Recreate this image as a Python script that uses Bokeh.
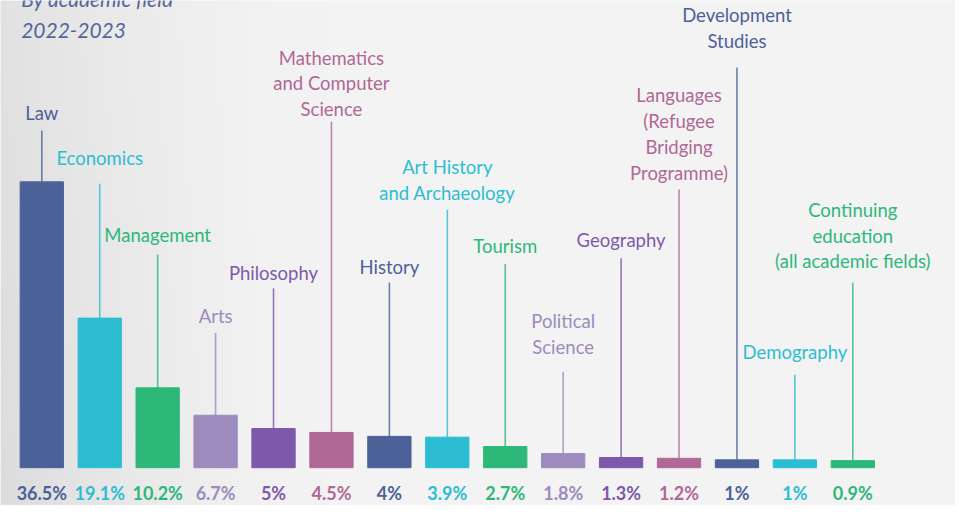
import numpy as np
from bokeh.plotting import figure
from bokeh.models import Range1d, ColumnDataSource
from bokeh.core.properties import value
from bokeh.embed import file_html
from bokeh.resources import INLINE

# ---------------- data ----------------
fields = ["Law", "Economics", "Management", "Arts", "Philosophy",
          "Mathematics\nand Computer\nScience", "History",
          "Art History\nand Archaeology", "Tourism", "Political\nScience",
          "Geography", "Languages\n(Refugee\nBridging\nProgramme)",
          "Development\nStudies", "Demography",
          "Continuing\neducation\n(all academic fields)"]
shares = [36.5, 19.1, 10.2, 6.7, 5, 4.5, 4, 3.9, 2.7, 1.8, 1.3, 1.2, 1, 1, 0.9]
share_labels = ["36.5%", "19.1%", "10.2%", "6.7%", "5%", "4.5%", "4%", "3.9%",
                "2.7%", "1.8%", "1.3%", "1.2%", "1%", "1%", "0.9%"]
title_lines = ["By academic field", "2022-2023"]

# ---------------- style / layout ----------------
C_NAVY, C_CYAN, C_GREEN = "#4d6199", "#2dbdd2", "#2db87a"
C_LAV, C_PURP, C_MAUVE = "#9d8bbd", "#7e59ab", "#b06896"
colors = [C_NAVY, C_CYAN, C_GREEN, C_LAV, C_PURP, C_MAUVE,
          C_NAVY, C_CYAN, C_GREEN, C_LAV, C_PURP, C_MAUVE,
          C_NAVY, C_CYAN, C_GREEN]

W, H = 955, 505                  # canvas
REF_W, REF_H = 971, 521          # reference frame mapped onto the canvas
X0_PX, STEP_PX = 42.0, 58.9      # reference-pixel centre of first bar, spacing
BASE_PX, K = 482.0, 8.08         # reference-pixel baseline, px per percent

# label layout (reference pixels: first text line centre, stem top)
label_top_px = [116, 163, 242, 325, 281, 59, 275, 172, 253, 331, 247, 98, 15, 363, 216]
stem_top_px = [134, 189, 262, 343, 297, 125, 291, 216, 272, 383, 266, 195, 69, 386, 291]
LINE_GAP = 26.5
PCT_Y_PX = 508


def y_of(px):
    return (BASE_PX - px) / K


def x_of(px):
    return (px - X0_PX) / STEP_PX


x_start, x_end = x_of(0), x_of(REF_W)
y_start, y_end = y_of(REF_H), y_of(0)

p = figure(width=W, height=H, output_backend="svg", toolbar_location=None,
           x_range=Range1d(x_start, x_end), y_range=Range1d(y_start, y_end),
           x_axis_type=None, y_axis_type=None, min_border=0,
           outline_line_color=None, border_fill_color="#f3f3f3",
           background_fill_color="#f3f3f3")
p.xgrid.visible = False
p.ygrid.visible = False

# background gradient (darker at left)
cols = np.linspace(0, REF_W, W)
rows = np.linspace(0, REF_H, H)[::-1]  # row 0 at bottom -> ref y = REF_H
fx = np.clip(1 - cols / 330.0, 0, 1) ** 1.6
fy = 0.75 + 0.25 * (rows / REF_H)
shade = 0xf3 - (0xf3 - 0xdc) * fy[:, None] * fx[None, :]
img = np.zeros((H, W), dtype=np.uint32)
view = img.view(dtype=np.uint8).reshape((H, W, 4))
g = shade.astype(np.uint8)
view[:, :, 0] = g
view[:, :, 1] = g
view[:, :, 2] = g
view[:, :, 3] = 255
p.image_rgba(image=[img], x=x_start, y=y_start, dw=x_end - x_start, dh=y_end - y_start)

idx = list(range(len(shares)))
src = ColumnDataSource(dict(x=idx, top=shares, color=colors, lab=share_labels))

# bars
p.vbar(x="x", top="top", bottom=0, width=44 / STEP_PX, color="color", source=src)

# stems
p.segment(x0=idx, y0=shares, x1=idx, y1=[y_of(v) for v in stem_top_px],
          line_color=colors, line_width=1.6, line_alpha=0.8)

# category labels
lx, ly, lt, lc = [], [], [], []
for i, name in enumerate(fields):
    for j, line in enumerate(name.split("\n")):
        lx.append(i)
        ly.append(y_of(label_top_px[i] + j * LINE_GAP))
        lt.append(line)
        lc.append(colors[i])
p.text(x=lx, y=ly, text=lt, text_color=lc, text_font=value("Lato"),
       text_font_size="18.5px", text_align="center", text_baseline="middle")

# percentage labels
p.text(x="x", y=y_of(PCT_Y_PX), text="lab", text_color="color", source=src,
       text_font=value("Lato"), text_font_size="18px", text_font_style="bold",
       text_align="center", text_baseline="middle")

# title (top cut like the original)
p.text(x=[x_of(21), x_of(21)], y=[y_of(-2), y_of(31)], text=title_lines,
       text_color="#55669b", text_font=value("Lato"), text_font_size="21px",
       text_font_style="italic", text_align="left", text_baseline="middle")

open("out.html", "w").write(file_html(p, INLINE))
